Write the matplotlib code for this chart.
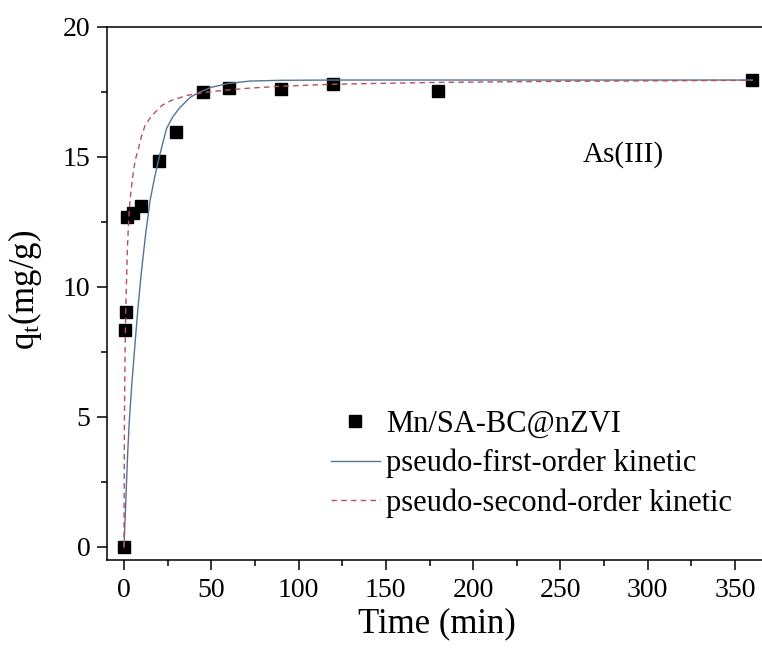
import matplotlib
matplotlib.use("Agg")
import matplotlib.pyplot as plt
from matplotlib.ticker import MultipleLocator

# experimental data
t_exp = [0, 0.5, 1, 2, 5, 10, 20, 30, 45, 60, 90, 120, 180, 360]
q_exp = [0, 8.35, 9.05, 12.70, 12.85, 13.1, 14.86, 15.95, 17.51, 17.66, 17.6, 17.82, 17.55, 17.96]

# pseudo-first-order fitted curve
t_pfo = [0, 1, 2, 3, 4.4, 6.3, 8, 10, 12.5, 15, 17.5, 20, 24.4, 28, 32, 38, 43.5, 50, 60, 72, 90, 120, 180, 250, 360]
q_pfo = [0, 1.7, 3.45, 4.8, 6.2, 7.8, 9.2, 10.6, 12.1, 13.35, 14.2, 14.95, 16.1, 16.55, 16.9, 17.3, 17.5, 17.68, 17.83, 17.92, 17.95, 17.96, 17.96, 17.96, 17.96]

# pseudo-second-order fitted curve
t_pso = [0, 0.2, 0.6, 1.1, 1.9, 2.7, 3.4, 4.2, 5.3, 6.5, 8.2, 10, 12, 15, 17.8, 22, 28, 36.8, 49, 60, 72, 90, 120, 180, 250, 360]
q_pso = [0, 4.5, 7.5, 9.4, 11.4, 12.6, 13.3, 13.8, 14.4, 14.9, 15.3, 15.8, 16.2, 16.5, 16.72, 17.0, 17.2, 17.38, 17.51, 17.58, 17.65, 17.72, 17.8, 17.87, 17.91, 17.95]

labels = ["Mn/SA-BC@nZVI", "pseudo-first-order kinetic", "pseudo-second-order kinetic"]
x_ticks = [0, 50, 100, 150, 200, 250, 300, 350]
y_ticks = [0, 5, 10, 15, 20]

plt.rcParams['font.family'] = ['Liberation Serif', 'DejaVu Serif']
plt.rcParams['mathtext.fontset'] = 'custom'
plt.rcParams['mathtext.rm'] = 'Liberation Serif'
plt.rcParams['mathtext.it'] = 'Liberation Serif:italic'

W, H = 762, 648
fig = plt.figure(figsize=(W / 100, H / 100), dpi=100)
left, right, top, bottom = 107, 767, 27, 560
ax = fig.add_axes([left / W, 1 - bottom / H, (right - left) / W, (bottom - top) / H])

ax.plot(t_exp, q_exp, linestyle='none', marker='s', color='black', markersize=8,
        label=labels[0], zorder=2)
ax.plot(t_pfo, q_pfo, color='#557494', lw=1.0, label=labels[1], zorder=3)
ax.plot(t_pso, q_pso, color='#b5525c', lw=1.0, linestyle=(0, (4, 3)), label=labels[2], zorder=4)

px_per_unit_x = (735 - 124) / 350.0
ax.set_xlim((left - 124) / px_per_unit_x, (right - 124) / px_per_unit_x)
px_per_unit_y = (547 - 27) / 20.0
ax.set_ylim(-(bottom - 547) / px_per_unit_y, 20)

ax.set_xticks(x_ticks)
ax.set_yticks(y_ticks)
ax.xaxis.set_minor_locator(MultipleLocator(25))
ax.yaxis.set_minor_locator(MultipleLocator(2.5))
ax.tick_params(which='major', direction='out', length=7, width=1.1, labelsize=20, pad=6)
ax.tick_params(which='minor', direction='out', length=4, width=1.1)
ax.tick_params(axis='y', which='major', pad=5)
for s in ax.spines.values():
    s.set_linewidth(1.1)

ax.set_xlabel("Time (min)", fontsize=25, labelpad=3)
ax.set_ylabel(r"q$_\mathrm{t}$(mg/g)", fontsize=25)
ax.yaxis.set_label_coords(-(left - 44) / (right - left), (bottom - 290) / (bottom - top))

txt = fig.text(623 / W, 1 - 155 / H, "As(III)", fontsize=21, ha='center', va='center')

leg = ax.legend(loc='upper left', bbox_to_anchor=(331 / W, 1 - 410 / H),
                bbox_transform=fig.transFigure, frameon=False, fontsize=22,
                borderpad=0, borderaxespad=0, handlelength=1.6, handletextpad=0.2,
                labelspacing=0.32, markerscale=1.0)

fig.savefig("out.png", dpi=100)
